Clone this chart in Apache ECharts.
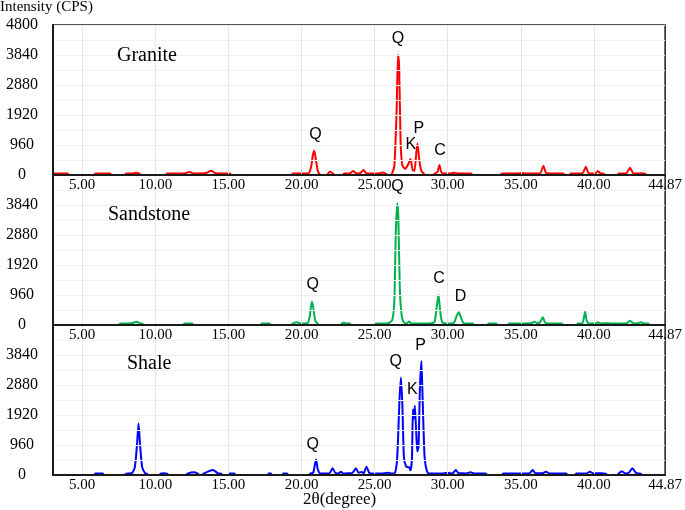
<!DOCTYPE html>
<html>
<head>
<meta charset="utf-8">
<script src="https://cdn.jsdelivr.net/npm/echarts@6/dist/echarts.min.js"></script>
<style>
html,body{margin:0;padding:0;background:#fff;}
#chart{width:685px;height:510px;}
</style>
</head>
<body>
<div id="chart"></div>
<script>
// ---- data (2θ in degrees, intensity in CPS) ----
const xTickValues = [5, 10, 15, 20, 25, 30, 35, 40, 44.87];
const xGridValues = [5, 10, 15, 20, 25, 30, 35, 40];
const yTickInterval = 960;

const granite = [
  [3.0,45],[4.0,45],[4.1,0],[5.8,0],[5.9,45],[6.9,45],[7.0,0],[7.9,0],[8.0,45],[8.5,50],[8.7,75],[8.9,45],[9.0,0],
  [10.7,0],[10.8,45],[12.0,50],[12.35,100],[12.6,50],[13.4,55],[13.83,135],[14.1,55],[15.1,45],[15.2,0],
  [19.3,0],[19.4,45],[20.45,50],[20.65,250],[20.78,650],[20.87,780],[20.97,520],[21.1,150],[21.2,45],[21.3,0],
  [21.75,0],[21.8,45],[21.96,107],[22.15,45],[22.25,0],[22.85,0],[22.9,45],[23.3,50],[23.53,128],[23.75,50],
  [24.0,55],[24.24,160],[24.45,50],[25.0,45],[25.3,50],[25.53,80],[25.75,45],[25.9,0],[26.1,0],[26.2,60],
  [26.35,300],[26.5,2000],[26.6,3850],[26.68,3400],[26.78,1000],[26.9,300],[27.1,200],[27.3,350],[27.45,510],
  [27.6,160],[27.72,130],[27.85,700],[27.93,1010],[28.05,500],[28.2,120],[28.35,50],[28.45,0],
  [29.0,0],[29.1,45],[29.3,100],[29.43,320],[29.55,100],[29.7,50],[30.2,50],[30.47,75],[30.7,45],[31.6,45],[31.7,0],
  [33.6,0],[33.7,45],[34.8,50],[35.06,65],[35.3,50],[36.3,50],[36.55,300],[36.75,55],[37.9,45],[38.0,0],
  [38.35,0],[38.4,45],[39.2,50],[39.45,265],[39.65,50],[40.1,50],[40.27,128],[40.45,50],[40.65,45],[40.75,0],
  [41.6,0],[41.7,45],[42.2,50],[42.47,235],[42.7,50],[43.0,45],[43.2,60],[43.5,45],[43.6,0],[44.87,0]
];

const sandstone = [
  [3.0,0],[7.5,0],[7.6,45],[8.4,55],[8.71,107],[8.95,50],[9.1,45],[9.2,0],[11.9,0],[12.0,45],[12.5,45],[12.6,0],
  [17.2,0],[17.3,45],[17.8,45],[17.9,0],[19.3,0],[19.4,45],[19.69,85],[19.95,50],[20.4,55],[20.55,250],
  [20.65,600],[20.72,745],[20.82,500],[20.95,120],[21.1,45],[21.2,0],[22.7,0],[22.75,45],[22.9,75],[23.1,45],
  [23.3,45],[23.4,0],[25.0,0],[25.1,45],[25.9,55],[26.2,150],[26.35,800],[26.45,3000],[26.55,3900],[26.62,3500],
  [26.72,1200],[26.85,300],[27.0,80],[27.2,55],[27.35,110],[27.5,50],[28.8,50],[29.1,100],[29.25,600],[29.37,960],
  [29.47,500],[29.62,90],[30.0,50],[30.4,60],[30.62,300],[30.76,405],[30.9,250],[31.1,60],[31.7,45],[31.8,0],
  [32.7,0],[32.8,45],[33.3,45],[33.4,0],[34.1,0],[34.2,45],[35.0,50],[35.7,55],[35.95,107],[36.15,55],[36.3,80],
  [36.5,245],[36.7,60],[37.8,45],[37.9,0],[38.8,0],[38.9,45],[39.2,50],[39.3,200],[39.4,425],[39.5,150],[39.65,50],
  [40.1,50],[40.27,85],[40.45,50],[41.0,55],[41.3,45],[42.2,50],[42.47,140],[42.7,50],[42.95,50],[43.2,85],
  [43.45,45],[43.7,45],[43.8,0],[44.87,0]
];

const shale = [
  [3.0,0],[5.8,0],[5.9,45],[6.4,45],[6.5,0],[7.9,0],[8.0,45],[8.4,60],[8.6,250],[8.75,1000],[8.85,1650],
  [8.95,1000],[9.1,250],[9.3,55],[9.4,45],[9.5,0],[10.3,0],[10.35,45],[10.57,60],[10.8,45],[10.9,0],
  [12.1,0],[12.2,45],[12.62,85],[12.9,45],[13.0,0],[13.2,0],[13.3,45],[13.94,160],[14.3,50],[14.5,45],[14.6,0],
  [15.0,0],[15.1,45],[15.4,45],[15.5,0],[17.7,0],[17.75,45],[17.9,45],[18.0,0],[18.7,0],[18.75,45],[19.0,45],[19.1,0],
  [20.5,0],[20.6,45],[20.8,80],[20.92,350],[21.0,500],[21.1,200],[21.25,55],[21.5,45],[21.9,50],[22.12,213],
  [22.35,50],[22.55,55],[22.69,107],[22.85,50],[23.0,45],[23.1,60],[23.45,55],[23.72,213],[23.9,70],[24.1,100],
  [24.25,60],[24.44,267],[24.65,55],[25.0,45],[25.3,50],[25.5,45],[25.87,75],[26.1,50],[26.4,80],[26.55,600],
  [26.7,2400],[26.8,3120],[26.9,2200],[27.0,600],[27.15,270],[27.35,250],[27.45,150],[27.55,500],[27.62,2100],
  [27.68,1800],[27.75,2220],[27.85,1300],[27.92,750],[28.0,900],[28.1,2800],[28.2,3650],[28.28,2500],[28.4,700],
  [28.5,270],[28.65,55],[28.8,45],[29.6,45],[29.97,75],[30.2,50],[30.35,55],[30.55,160],[30.75,55],[30.99,60],
  [31.2,50],[31.56,85],[31.8,50],[32.58,45],[32.7,0],[33.7,0],[33.8,45],[35.3,50],[35.6,60],[35.81,160],[36.0,55],
  [36.5,55],[36.72,107],[36.95,50],[38.1,45],[38.2,0],[38.7,0],[38.8,45],[39.5,50],[39.72,107],[39.95,50],
  [40.54,55],[40.8,45],[40.9,0],[41.6,0],[41.7,45],[41.9,120],[42.15,50],[42.35,55],[42.63,213],[42.9,55],
  [43.2,45],[43.3,0],[44.87,0]
];

// peak annotations: [label, 2θ, CPS]
const granitePeaks = [['Q',20.95,1300],['Q',26.6,4360],['K',27.47,980],['P',28.03,1490],['C',29.47,770]];
const sandstonePeaks = [['Q',20.76,1300],['Q',26.56,4420],['C',29.4,1490],['D',30.88,905]];
const shalePeaks = [['Q',20.76,980],['Q',26.44,3630],['K',27.58,2720],['P',28.15,4140]];

const panels = [
  {name:'Granite', data:granite, peaks:granitePeaks, color:'#ff0000'},
  {name:'Sandstone', data:sandstone, peaks:sandstonePeaks, color:'#00b04f'},
  {name:'Shale', data:shale, peaks:shalePeaks, color:'#0000ff'}
];

// ---- layout ----
const gridTops = [25, 175, 325];
const gridH = 150;
const serif = '"Liberation Serif","Times New Roman",serif';
const sans = '"Liberation Sans",Arial,sans-serif';

const chart = echarts.init(document.getElementById('chart'), null, {renderer:'canvas'});

const grids = [], xAxes = [], yAxes = [], series = [];
panels.forEach((p, i) => {
  grids.push({left:53, right:17, top:gridTops[i], height:gridH, show:true,
    borderColor:'#1a1a1a', borderWidth:1.5, backgroundColor:'transparent', containLabel:false});
  xAxes.push({
    type:'value', gridIndex:i, min:3, max:44.87, z:5,
    axisLine:{show:true, onZero:false, lineStyle:{color:'#1a1a1a', width:2}},
    axisTick:{show:false, customValues:xGridValues},
    axisLabel:{customValues:xTickValues, margin:3, color:'#000', fontFamily:serif, fontSize:15,
      formatter:v => v.toFixed(2), showMinLabel:true, showMaxLabel:true},
    splitLine:{show:true, lineStyle:{color:'#e6e6e6', width:1}}
  });
  yAxes.push({
    type:'value', gridIndex:i, min:0, max:4800, interval:yTickInterval, z:5,
    axisLine:{show:true, lineStyle:{color:'#1a1a1a', width:2}},
    axisTick:{show:false},
    axisLabel:{color:'#000', fontFamily:serif, fontSize:16, align:'center', margin:31,
      formatter:v => String(v), showMaxLabel: i === 0},
    splitLine:{show:true, lineStyle:{color:'#efefef', width:1}},
    minorTick:{show:false, splitNumber:2},
    minorSplitLine:{show:true, lineStyle:{color:'#f3f3f3', width:1}}
  });
  series.push({
    type:'line', name:p.name, xAxisIndex:i, yAxisIndex:i, data:p.data,
    showSymbol:false, smooth:0.2, z:2,
    lineStyle:{color:p.color, width:2}, itemStyle:{color:p.color},
    markPoint:{
      symbol:'circle', symbolSize:0, silent:true,
      label:{show:true, position:'inside', formatter:'{b}', color:'#000', fontFamily:sans, fontSize:16},
      data:p.peaks.map(pk => ({name:pk[0], coord:[pk[1], pk[2]]}))
    }
  });
});

const option = {
  animation:false,
  backgroundColor:'#fff',
  grid:grids, xAxis:xAxes, yAxis:yAxes, series:series,
  graphic:[
    {type:'text', z:100, left:0, top:0, style:{text:'Intensity (CPS)', font:'15px '+serif, fill:'#000'}},
    {type:'text', z:100, left:303, top:491, style:{text:'2θ(degree)', font:'17px '+serif, fill:'#000'}},
    {type:'text', z:100, left:117, top:46, style:{text:'Granite', font:'20px '+serif, fill:'#000'}},
    {type:'text', z:100, left:108, top:205, style:{text:'Sandstone', font:'20px '+serif, fill:'#000'}},
    {type:'text', z:100, left:127, top:354, style:{text:'Shale', font:'20px '+serif, fill:'#000'}}
  ]
};
chart.setOption(option);
</script>
</body>
</html>
